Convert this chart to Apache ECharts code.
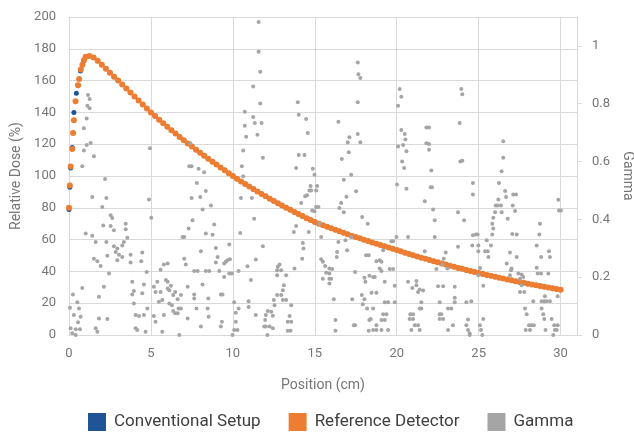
<!DOCTYPE html>
<html>
<head>
    <meta charset="utf-8">
    <title>Relative Dose</title>
    <style>
        html, body { margin: 0; padding: 0; background: #fff; }
        #chart { width: 634px; height: 433px; }
    </style>
</head>
<body>
<div id="chart"></div>
<script src="https://cdn.jsdelivr.net/npm/echarts@6/dist/echarts.min.js"></script>
<script>
// depth positions (cm) of the reference detector curve
var refPos = [0, 0.05, 0.1, 0.2, 0.25, 0.3, 0.4, 0.55, 0.62, 0.72, 0.82, 0.92, 1.02, 1.25,
    1.5, 1.75, 2, 2.25, 2.5, 2.75, 3, 3.25, 3.5, 3.75, 4, 4.25, 4.5, 4.75, 5,
    5.25, 5.5, 5.75, 6, 6.25, 6.5, 6.75, 7, 7.25, 7.5, 7.75, 8, 8.25, 8.5, 8.75, 9, 9.25, 9.5, 9.75, 10,
    10.25, 10.5, 10.75, 11, 11.25, 11.5, 11.75, 12, 12.25, 12.5, 12.75, 13, 13.25, 13.5, 13.75, 14, 14.25, 14.5, 14.75, 15,
    15.25, 15.5, 15.75, 16, 16.25, 16.5, 16.75, 17, 17.25, 17.5, 17.75, 18, 18.25, 18.5, 18.75, 19, 19.25, 19.5, 19.75, 20,
    20.25, 20.5, 20.75, 21, 21.25, 21.5, 21.75, 22, 22.25, 22.5, 22.75, 23, 23.25, 23.5, 23.75, 24, 24.25, 24.5, 24.75, 25,
    25.25, 25.5, 25.75, 26, 26.25, 26.5, 26.75, 27, 27.25, 27.5, 27.75, 28, 28.25, 28.5, 28.75, 29, 29.25, 29.5, 29.75, 30];
var refDose = [80, 94, 106, 117, 127, 135, 147, 157, 161, 167, 170, 173, 175, 175.5,
    174.5, 172.5, 170, 167.5, 165, 162.5, 160, 157.5, 155, 152.5, 150, 147.5, 145, 142.5, 140,
    137.7, 135.4, 133.2, 131, 128.8, 126.7, 124.6, 122.5, 120.5, 118.5, 116.5, 114.6, 112.7, 110.8, 109, 107.2, 105.4, 103.6, 101.8, 100,
    98.3, 96.6, 95, 93.4, 91.8, 90.2, 88.7, 87.2, 85.7, 84.3, 82.9, 81.5, 80.1, 78.7, 77.4, 76.1, 74.8, 73.5, 72.3, 71,
    70, 69, 68.1, 67.1, 66.2, 65.2, 64.3, 63.4, 62.5, 61.6, 60.8, 59.9, 59.1, 58.2, 57.4, 56.6, 55.8, 55, 54.3, 53.5,
    52.7, 51.8, 51, 50.2, 49.4, 48.6, 47.9, 47.1, 46.4, 45.7, 45, 44.3, 43.6, 42.9, 42.2, 41.6, 40.9, 40.3, 39.6, 39,
    38.4, 37.8, 37.2, 36.6, 36, 35.5, 34.9, 34.4, 33.8, 33.3, 32.8, 32.3, 31.8, 31.3, 30.8, 30.3, 29.8, 29.4, 28.9, 28.5];

// conventional setup: own build-up points, same as reference beyond 1.5 cm
var convPos = [0, 0.05, 0.1, 0.2, 0.3, 0.45, 0.55, 0.7, 0.9, 1.05];
var convDose = [79, 93, 105, 118, 140, 152, 157, 166, 172.5, 175];
var convTailStart = 14;

// gamma index [position cm, gamma]
var gammaPoints = [
    [1.16, 0.83], [1.26, 0.816], [1.12, 0.793], [1.26, 0.784], [1.08, 0.749], [0.91, 0.715], [1.08, 0.657], [1.32, 0.664],
    [0.91, 0.638], [1.52, 0.618], [0.81, 0.584], [2.2, 0.54], [1.42, 0.477], [2.28, 0.474], [2.03, 0.443], [2.54, 0.414],
    [2.64, 0.405], [2.09, 0.379], [2.54, 0.377], [2.74, 0.362], [3.46, 0.385], [3.46, 0.366], [1.02, 0.351], [1.42, 0.343],
    [1.63, 0.322], [2.28, 0.322], [3.35, 0.322], [3.56, 0.336], [3.25, 0.31], [2.74, 0.307], [2.95, 0.299], [2.85, 0.287],
    [3.05, 0.278], [2.34, 0.274], [3.25, 0.27], [2.95, 0.259], [3.76, 0.278], [4.47, 0.285], [1.52, 0.264], [1.73, 0.255],
    [1.93, 0.239], [3.76, 0.251], [4.41, 0.255], [4.88, 0.469], [5.02, 0.406], [4.94, 0.646], [2.44, 0.213], [0.24, 0.14],
    [0.81, 0.163], [2.13, 0.167], [1.83, 0.132], [3.86, 0.184], [3.96, 0.152], [3.86, 0.14], [4.57, 0.175], [4.47, 0.144],
    [4.74, 0.218], [3.96, 0.109], [0.51, 0.113], [0.06, 0.094], [0.61, 0.092], [0.71, 0.063], [0.3, 0.069], [0.55, 0.044],
    [0.41, 0.02], [0.67, 0.02], [0.1, 0.023], [0.2, 0.006], [0.41, 0], [1.63, 0.023], [1.73, 0.011], [1.83, 0.057],
    [2.34, 0.055], [4.07, 0.069], [4.27, 0.066], [4.57, 0.069], [4.78, 0.092], [4.07, 0.023], [4.17, 0.017], [4.67, 0.011],
    [5.79, 0.244], [5.59, 0.226], [5.39, 0.184], [5.18, 0.167], [5.28, 0.149], [5.59, 0.149], [5.49, 0.115], [5.69, 0.121],
    [5.79, 0.069], [5.18, 0.066], [5.28, 0.046], [5.69, 0.011],
    [11.57, 1.083], [11.57, 0.98], [11.67, 0.911], [11.24, 0.86], [11.67, 0.801], [10.73, 0.772], [11.24, 0.754], [11.34, 0.733],
    [11.75, 0.733], [10.73, 0.724], [11.5, 0.693], [10.81, 0.686], [10.63, 0.638], [11.83, 0.613], [10.55, 0.584], [10.63, 0.549],
    [10.49, 0.474], [11.16, 0.474], [11.3, 0.402], [10.45, 0.353], [11.83, 0.307], [11.4, 0.261], [10.89, 0.238], [11.1, 0.19],
    [10.96, 0.117], [10.96, 0.097], [11.4, 0.069], [12.01, 0.069], [11.97, 0.052], [11.91, 0.029], [12.01, 0.029], [12.11, 0],
    [10.08, 0.113], [10.35, 0.092], [10.18, 0.077], [10.18, 0.046], [10.08, 0.017], [10.28, 0.017], [9.98, 0], [9.33, 0.046],
    [9.27, 0.029], [8.52, 0.063], [8.46, 0.092], [8.5, 0.126], [8.05, 0.029], [7.78, 0.092], [7.64, 0.126], [7.64, 0.14],
    [7.24, 0.167], [7.24, 0.057], [6.73, 0], [6.83, 0.092], [6.69, 0.092], [6.63, 0.075], [6.48, 0.075], [6.36, 0.083],
    [6.28, 0.103], [6.12, 0.109], [6.63, 0.124], [6.83, 0.138], [6.36, 0.138], [6.48, 0.149], [6.12, 0.155], [6.02, 0.161],
    [6.22, 0.17], [6.02, 0.184], [5.91, 0.19], [6.02, 0.247], [7.03, 0.264], [7.13, 0.244], [7.64, 0.221], [7.85, 0.221],
    [8.35, 0.221], [8.56, 0.221], [9.17, 0.221], [8.05, 0.29], [8.96, 0.301], [9.07, 0.27], [8.96, 0.251], [9.47, 0.247],
    [9.57, 0.253], [9.67, 0.259], [9.82, 0.262], [9.78, 0.313], [9.78, 0.213], [9.94, 0.213], [9.47, 0.201], [9.27, 0.14],
    [9.37, 0.14], [10.35, 0.221], [8.15, 0.175], [7.34, 0.584], [7.48, 0.584], [7.91, 0.575], [8.25, 0.563], [7.8, 0.526],
    [8.35, 0.498], [8.01, 0.477], [7.48, 0.474], [8.15, 0.434], [8.66, 0.448], [7.54, 0.397], [7.3, 0.368], [7.03, 0.339],
    [6.93, 0.339], [8.86, 0.382], [8.35, 0.351], [8.76, 0.347], [7.4, 0.663],
    [13.96, 0.805], [14.02, 0.762], [14.47, 0.747], [14.57, 0.699], [14.02, 0.623], [14.37, 0.623], [13.86, 0.578], [14.88, 0.575],
    [14.98, 0.554], [14.74, 0.515], [15.14, 0.515], [14.67, 0.5], [14.78, 0.5], [15.08, 0.5], [14.53, 0.483], [14.41, 0.48],
    [14.17, 0.457], [15.08, 0.443], [15.22, 0.443], [14.98, 0.428], [14.84, 0.431], [13.86, 0.377], [13.72, 0.356], [14.63, 0.356],
    [14.27, 0.318], [14.31, 0.299], [14.23, 0.264], [13.76, 0.23], [12.85, 0.244], [12.74, 0.236], [12.7, 0.224], [12.95, 0.224],
    [13.25, 0.207], [12.7, 0.207], [13.11, 0.172], [13.05, 0.155], [12.7, 0.138], [12.95, 0.138], [12.5, 0.121], [13.05, 0.121],
    [13.25, 0.121], [13.56, 0.103], [12.54, 0.103], [12.34, 0.08], [12.13, 0.083], [12.44, 0.067], [12.24, 0.029], [12.44, 0.023],
    [13.35, 0.046], [13.56, 0.046], [13.46, 0.066], [13.35, 0.015], [13.52, 0.015], [15.39, 0.262], [15.49, 0.253], [15.63, 0.239],
    [15.89, 0.23], [16.06, 0.228], [15.69, 0.215], [15.89, 0.213], [15.49, 0.195], [15.89, 0.195], [16, 0.195], [15.89, 0.178],
    [16.16, 0.124], [16.26, 0.052], [16.26, 0.015], [17.46, 0.218], [17.28, 0.124], [17.38, 0.034], [17.46, 0.034], [16.44, 0.738],
    [16.65, 0.609], [17.11, 0.684], [17.01, 0.667], [17.62, 0.695], [17.78, 0.667], [17.07, 0.632], [17.22, 0.554], [16.77, 0.537],
    [16.93, 0.478], [16.61, 0.457], [16.5, 0.439], [16.77, 0.425], [17.52, 0.497], [17.62, 0.943], [17.66, 0.902], [17.78, 0.889],
    [17.62, 0.805], [17.89, 0.408], [18.23, 0.385], [18.13, 0.276], [18.29, 0.276], [18.03, 0.198], [18.09, 0.184], [18.33, 0.205],
    [17.87, 0.138], [18.03, 0.124], [18.19, 0.092], [17.93, 0.106], [18.33, 0.052], [18.29, 0.015], [16.44, 0.322], [16.36, 0.287],
    [16.34, 0.27], [16.87, 0.328], [16.97, 0.293], [17.22, 0.339], [15.39, 0.339], [15.28, 0.385],
    [20.18, 0.851], [20.28, 0.824], [20.08, 0.793], [20.28, 0.709], [20.49, 0.695], [20.53, 0.676], [20.39, 0.657], [20.08, 0.652],
    [20.59, 0.636], [20.33, 0.6], [20.45, 0.578], [20.02, 0.521], [20.59, 0.506], [21.81, 0.718], [21.97, 0.718], [21.81, 0.663],
    [21.97, 0.661], [21.97, 0.641], [22.11, 0.569], [22.07, 0.511], [22.15, 0.511], [21.71, 0.463], [22.22, 0.434], [22.32, 0.397],
    [22.32, 0.339], [21.71, 0.29], [23.94, 0.851], [24, 0.833], [23.84, 0.733], [23.88, 0.6], [24, 0.603], [24.65, 0.526],
    [24.65, 0.486], [23.74, 0.425], [24.11, 0.397], [23.74, 0.305], [24.61, 0.31], [24.65, 0.345], [22.99, 0.285], [22.87, 0.264],
    [23.09, 0.23], [22.42, 0.228], [22.79, 0.244], [19.98, 0.339], [20.69, 0.339], [19.67, 0.324], [19.78, 0.324], [19.17, 0.293],
    [18.96, 0.259], [19.07, 0.253], [18.76, 0.255], [18.96, 0.23], [19.07, 0.221], [19.57, 0.228], [19.78, 0.228], [18.66, 0.201],
    [18.56, 0.201], [19.27, 0.184], [19.88, 0.17], [20.69, 0.184], [21.2, 0.187], [21.2, 0.172], [20.95, 0.163], [21.4, 0.157],
    [21.61, 0.154], [21.3, 0.149], [18.46, 0.146], [18.76, 0.146], [19.27, 0.113], [19.47, 0.113], [19.88, 0.113], [21.5, 0.113],
    [21.4, 0.092], [21.5, 0.092], [22.62, 0.113], [23.13, 0.092], [23.33, 0.092], [23.54, 0.113], [23.54, 0.129], [23.54, 0.167],
    [22.52, 0.169], [22.83, 0.169], [24.25, 0.113], [24.55, 0.117], [18.56, 0.092], [19.17, 0.072], [19.37, 0.072], [18.41, 0.055],
    [19.07, 0.052], [19.27, 0.052], [20.83, 0.072], [21, 0.072], [20.79, 0.055], [21, 0.055], [22.62, 0.072], [22.72, 0.072],
    [22.62, 0.055], [22.83, 0.055], [21.1, 0.034], [21.3, 0.034], [23.43, 0.034], [24.25, 0.034], [24.35, 0.054], [18.76, 0.017],
    [19.07, 0.017], [19.47, 0.017], [18.56, 0.017], [20.89, 0.017], [21.4, 0.017], [23.13, 0.017], [24.35, 0.017], [24.45, 0],
    [24.45, 0.006], [18.76, 0.034],
    [26.5, 0.67], [26.5, 0.613], [26.4, 0.566], [26.24, 0.526], [26.61, 0.498], [26.67, 0.477], [26.2, 0.469], [26.16, 0.448],
    [26.04, 0.448], [26.36, 0.448], [27.11, 0.486], [27.28, 0.486], [26.4, 0.425], [26, 0.425], [26.77, 0.402], [27.08, 0.448],
    [27.22, 0.429], [25.89, 0.406], [25.83, 0.385], [25.89, 0.368], [25.83, 0.348], [24.82, 0.348], [24.94, 0.348], [24.98, 0.31],
    [24.98, 0.29], [25.49, 0.328], [25.75, 0.31], [25.39, 0.29], [25.55, 0.29], [25.59, 0.27], [26.91, 0.285], [27.32, 0.27],
    [27.05, 0.349], [27.32, 0.348], [26.71, 0.247], [27.01, 0.23], [26.97, 0.224], [26.91, 0.207], [27.42, 0.213], [27.62, 0.209],
    [27.72, 0.201], [27.52, 0.195], [27.62, 0.172], [27.52, 0.149], [27.78, 0.149], [25.28, 0.17], [25.08, 0.232], [24.98, 0.207],
    [28.74, 0.385], [28.7, 0.348], [28.54, 0.31], [28.81, 0.27], [28.54, 0.233], [28.6, 0.213], [28.81, 0.213], [29.25, 0.213],
    [29.29, 0.29], [29.35, 0.27], [29.86, 0.468], [29.9, 0.431], [30.02, 0.431], [29.82, 0.134], [28.33, 0.117], [28.84, 0.117],
    [29, 0.117], [29.14, 0.117], [29.35, 0.117], [29.04, 0.134], [27.83, 0.092], [27.93, 0.072], [28.84, 0.092], [28.94, 0.072],
    [29, 0.055], [29.45, 0.055], [29.61, 0.034], [29.82, 0.034], [29.65, 0.017], [29.55, 0], [29.76, 0.017], [27.87, 0.017],
    [28.07, 0.034], [28.13, 0.017], [28.23, 0.034], [28.37, 0.034], [29.08, 0.017], [25.28, 0.055], [25.08, 0.034], [25.14, 0.017],
    [25.22, 0]
];

var refData = refPos.map(function (p, i) { return [p, refDose[i]]; });
var convData = convPos.map(function (p, i) { return [p, convDose[i]]; })
    .concat(refData.slice(convTailStart));

var textColor = '#767676';
var gridColor = '#d9d9d9';

var myChart = echarts.init(document.getElementById('chart'));
var option = {
    animation: false,
    textStyle: { fontFamily: 'Roboto', color: textColor },
    grid: { left: 69, right: 57, top: 17, bottom: 98, outerBoundsMode: 'none' },
    legend: {
        top: 408,
        left: 83,
        itemWidth: 18,
        itemHeight: 18,
        itemGap: 28,
        icon: 'rect',
        textStyle: { fontSize: 17, color: '#404040', fontFamily: 'Roboto', padding: [0, 0, 0, 3] },
        data: ['Conventional Setup', 'Reference Detector', 'Gamma']
    },
    xAxis: {
        type: 'value',
        min: 0,
        max: 31,
        interval: 5,
        name: 'Position (cm)',
        nameLocation: 'middle',
        nameGap: 43,
        nameTextStyle: { fontSize: 14, color: textColor },
        axisLine: { show: true, lineStyle: { color: gridColor } },
        axisTick: { show: false },
        axisLabel: { fontSize: 13, color: textColor, margin: 12, showMaxLabel: false },
        splitLine: { show: true, lineStyle: { color: gridColor } }
    },
    yAxis: [
        {
            type: 'value',
            min: 0,
            max: 200,
            interval: 20,
            name: 'Relative Dose (%)',
            nameLocation: 'middle',
            nameGap: 46,
            nameTextStyle: { fontSize: 14, color: textColor },
            axisLine: { show: false },
            axisTick: { show: false },
            axisLabel: { fontSize: 13, color: textColor, margin: 13 },
            splitLine: { lineStyle: { color: gridColor } }
        },
        {
            type: 'value',
            min: 0,
            max: 1.1,
            interval: 0.2,
            name: 'Gamma',
            nameLocation: 'middle',
            nameRotate: -90,
            nameGap: 41,
            nameTextStyle: { fontSize: 14, color: textColor },
            axisLine: { show: true, lineStyle: { color: gridColor } },
            axisTick: { show: true, length: 5, lineStyle: { color: gridColor } },
            axisLabel: { fontSize: 13, color: textColor, margin: 15, showMaxLabel: false },
            splitLine: { show: false }
        }
    ],
    series: [
        {
            name: 'Conventional Setup',
            type: 'scatter',
            symbolSize: 5,
            itemStyle: { color: '#1f5597', opacity: 1 },
            data: convData
        },
        {
            name: 'Reference Detector',
            type: 'scatter',
            symbolSize: 6,
            itemStyle: { color: '#ed7d31', opacity: 1 },
            data: refData
        },
        {
            name: 'Gamma',
            type: 'scatter',
            yAxisIndex: 1,
            symbolSize: 4,
            itemStyle: { color: '#a5a5a5', opacity: 1 },
            data: gammaPoints
        }
    ]
};
myChart.setOption(option);
</script>
</body>
</html>
